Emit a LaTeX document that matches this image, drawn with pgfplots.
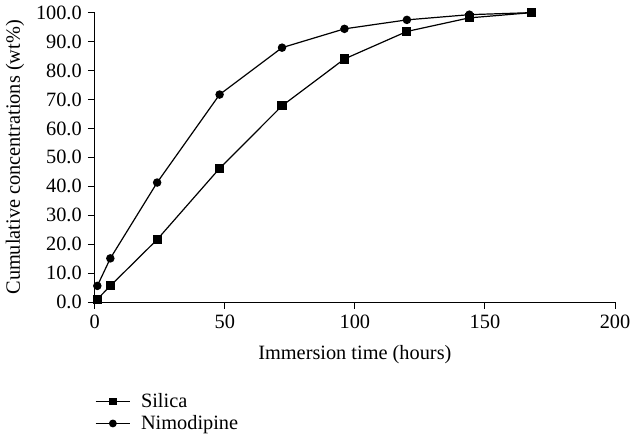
\documentclass[border=0pt]{standalone}
\usepackage{fontspec}
\setmainfont{Liberation Serif}
\usepackage{pgfplots}
\pgfplotsset{compat=1.18}
\begin{document}
\begin{tikzpicture}
\begin{axis}[
  scale only axis,
  width=302pt, height=168pt,
  xmin=0, xmax=200, ymin=0, ymax=100,
  axis x line*=bottom, axis y line*=left,
  xtick={0,50,100,150,200},
  ytick={0,10,...,100},
  xtick align=outside, ytick align=outside,
  major tick length=4pt,
  every tick/.style={black, line width=0.6pt},
  axis line style={line width=0.6pt},
  /pgf/number format/assume math mode=true,
  yticklabel style={/pgf/number format/.cd,fixed,fixed zerofill,precision=1},
  ticklabel style={font=\fontsize{11.8}{13}\selectfont},
  label style={font=\fontsize{11.8}{13}\selectfont},
  xlabel={Immersion time (hours)},
  ylabel={Cumulative concentrations (wt\%)},
  xlabel style={yshift=-3pt},
  ylabel style={yshift=0pt},
  legend style={at={(rel axis cs:-0.01,-0.29)}, anchor=north west, draw=none,
    font=\fontsize{11.8}{13}\selectfont, row sep=-1pt,
    nodes={inner xsep=6pt}},
  legend cell align=left,
  legend image code/.code={\draw[mark repeat=2,mark phase=2,#1,mark size=1.9pt]
      plot coordinates {(0pt,0pt)(10pt,0pt)(20pt,0pt)};},
  every axis plot/.append style={black, line width=0.7pt},
  clip=false,
]
\addplot[mark=square*, mark size=2.3pt] coordinates {
(1,1.0) (6,5.6) (24,21.6) (48,46.2) (72,67.8) (96,84.0) (120,93.5) (144,98.2) (168,100.0)};
\addlegendentry{Silica}
\addplot[mark=*, mark size=2.1pt] coordinates {
(1,5.6) (6,15.1) (24,41.3) (48,71.7) (72,87.9) (96,94.4) (120,97.5) (144,99.3) (168,100.0)};
\addlegendentry{Nimodipine}
\end{axis}
\end{tikzpicture}
\end{document}
